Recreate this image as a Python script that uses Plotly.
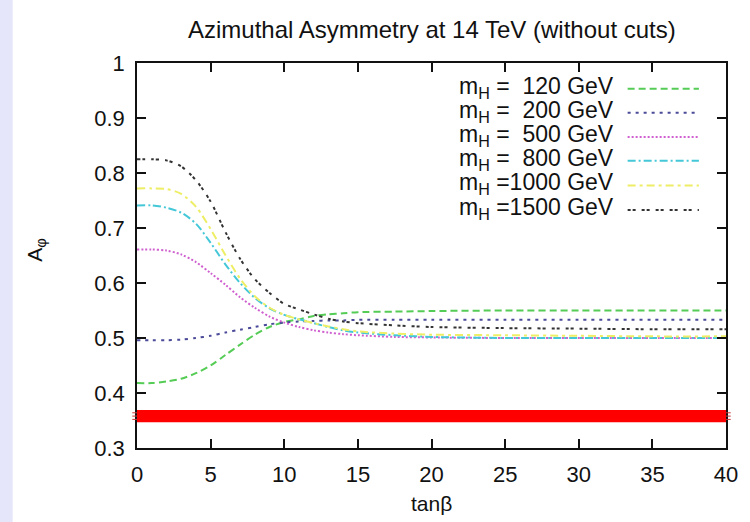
import plotly.graph_objects as go

# ---------------- data ----------------
tanb = [0, 1, 2, 3, 4, 5, 6, 7, 8, 9, 10, 11, 12, 13, 14, 15, 17.5, 20, 25, 30, 35, 40]

a_120 = [0.418, 0.418, 0.421, 0.426, 0.436, 0.450, 0.469, 0.488, 0.506, 0.520, 0.529,
         0.534, 0.540, 0.543, 0.545, 0.547, 0.548, 0.549, 0.550, 0.550, 0.550, 0.550]
a_200 = [0.496, 0.496, 0.496, 0.497, 0.500, 0.504, 0.510, 0.515, 0.520, 0.525, 0.528,
         0.530, 0.531, 0.532, 0.532, 0.533, 0.533, 0.533, 0.533, 0.533, 0.533, 0.533]
a_500 = [0.661, 0.661, 0.659, 0.652, 0.638, 0.618, 0.597, 0.574, 0.555, 0.539, 0.528,
         0.520, 0.514, 0.510, 0.507, 0.505, 0.502, 0.501, 0.500, 0.500, 0.500, 0.500]
a_800 = [0.741, 0.741, 0.737, 0.728, 0.708, 0.673, 0.634, 0.600, 0.573, 0.554, 0.542,
         0.534, 0.527, 0.520, 0.514, 0.510, 0.505, 0.502, 0.500, 0.500, 0.500, 0.500]
a_1000 = [0.772, 0.772, 0.771, 0.762, 0.739, 0.698, 0.651, 0.608, 0.576, 0.555, 0.542,
          0.534, 0.527, 0.521, 0.516, 0.512, 0.508, 0.506, 0.505, 0.504, 0.503, 0.503]
a_1500 = [0.825, 0.825, 0.823, 0.812, 0.787, 0.748, 0.693, 0.644, 0.607, 0.582, 0.562,
          0.552, 0.543, 0.535, 0.530, 0.527, 0.523, 0.520, 0.518, 0.517, 0.516, 0.516]

band_x = [0, 40]
band_low = [0.347, 0.347]
band_high = [0.369, 0.369]

labels = ["m<sub>H</sub> =\u00a0\u00a0120 GeV", "m<sub>H</sub> =\u00a0\u00a0200 GeV",
          "m<sub>H</sub> =\u00a0\u00a0500 GeV", "m<sub>H</sub> =\u00a0\u00a0800 GeV",
          "m<sub>H</sub> =1000 GeV", "m<sub>H</sub> =1500 GeV"]
series = [a_120, a_200, a_500, a_800, a_1000, a_1500]

x_ticks = [0, 5, 10, 15, 20, 25, 30, 35, 40]
y_ticks = [0.3, 0.4, 0.5, 0.6, 0.7, 0.8, 0.9, 1.0]
y_ticklabels = ["0.3", "0.4", "0.5", "0.6", "0.7", "0.8", "0.9", "1"]

# ---------------- styles ----------------
colors = ["#55cc55", "#4a4a99", "#d060d0", "#44c8d8", "#eeee66", "#333333"]
dashes = ["7px,4px", "3px,5px", "2px,2px", "8px,3px,2px,3px", "8px,4px,3px,4px", "3px,2px,3px,6px"]
FONT = "Liberation Sans, Arial, sans-serif"
INK = "#111111"

fig = go.Figure()

# red band
fig.add_trace(go.Scatter(x=band_x, y=band_low, mode="lines",
                         line=dict(color="red", width=0), showlegend=False, hoverinfo="skip"))
fig.add_trace(go.Scatter(x=band_x, y=band_high, mode="lines", fill="tonexty",
                         fillcolor="#ff0000", line=dict(color="red", width=0),
                         showlegend=False, hoverinfo="skip"))

for ys, c, d, lab in zip(series, colors, dashes, labels):
    fig.add_trace(go.Scatter(x=tanb, y=ys, mode="lines", name=lab,
                             line=dict(color=c, width=2, dash=d, shape="spline", smoothing=0.8),
                             showlegend=False))

shapes = []
annotations = []

# lavender strip at left edge of page
shapes.append(dict(type="rect", xref="paper", yref="paper", x0=-0.26, x1=-0.211,
                   y0=-0.3, y1=1.3, fillcolor="#e6e6fa", line=dict(width=0), layer="below"))

# small marks outside the axes at the band
for yy in [0.352, 0.358, 0.364]:
    shapes.append(dict(type="line", xref="paper", yref="y", x0=-0.008, x1=0, y0=yy, y1=yy,
                       line=dict(color="#cc3333", width=1)))
    shapes.append(dict(type="line", xref="paper", yref="y", x0=1.0, x1=1.008, y0=yy, y1=yy,
                       line=dict(color="#cc3333", width=1)))

# legend (text left, sample right)
leg_y = [0.937, 0.875, 0.812, 0.750, 0.686, 0.622]
for lab, c, d, yy in zip(labels, colors, dashes, leg_y):
    annotations.append(dict(text=lab, xref="paper", yref="paper", x=0.813, y=yy,
                            xanchor="right", yanchor="middle", showarrow=False,
                            font=dict(family=FONT, size=23, color=INK)))
    shapes.append(dict(type="line", xref="paper", yref="paper", x0=0.833, x1=0.954,
                       y0=yy - 0.004, y1=yy - 0.004, line=dict(color=c, width=2, dash=d)))

annotations.append(dict(text="Azimuthal Asymmetry at 14 TeV (without cuts)", xref="paper", yref="paper",
                        x=0.5, y=1.088, xanchor="center", yanchor="middle", showarrow=False,
                        font=dict(family=FONT, size=24, color=INK)))
annotations.append(dict(text="tanβ", xref="paper", yref="paper", x=0.5, y=-0.143,
                        xanchor="center", yanchor="middle", showarrow=False,
                        font=dict(family=FONT, size=21, color=INK)))
annotations.append(dict(text="A<sub>φ</sub>", xref="paper", yref="paper", x=-0.172, y=0.514,
                        xanchor="center", yanchor="middle", showarrow=False, textangle=-90,
                        font=dict(family=FONT, size=21, color=INK)))

fig.update_layout(
    width=750, height=522,
    margin=dict(l=137, r=21, t=63, b=74),
    paper_bgcolor="white", plot_bgcolor="white",
    shapes=shapes, annotations=annotations,
    showlegend=False,
)
fig.update_xaxes(range=[0, 40], tickvals=x_ticks, ticks="inside", ticklen=9, tickwidth=1.5,
                 tickcolor=INK, showline=True, linecolor=INK, linewidth=1.5,
                 mirror="ticks", showgrid=False, zeroline=False, ticklabelstandoff=6,
                 tickfont=dict(family=FONT, size=22, color=INK))
fig.update_yaxes(range=[0.3, 1.0], tickvals=y_ticks, ticktext=y_ticklabels, ticks="inside",
                 ticklen=9, tickwidth=1.5, tickcolor=INK, showline=True,
                 linecolor=INK, linewidth=1.5, mirror="ticks", showgrid=False,
                 zeroline=False, ticklabelstandoff=6,
                 tickfont=dict(family=FONT, size=22, color=INK))

fig.write_html("out.html", config={"displayModeBar": False},
               post_script="document.body.style.margin='0px';")
